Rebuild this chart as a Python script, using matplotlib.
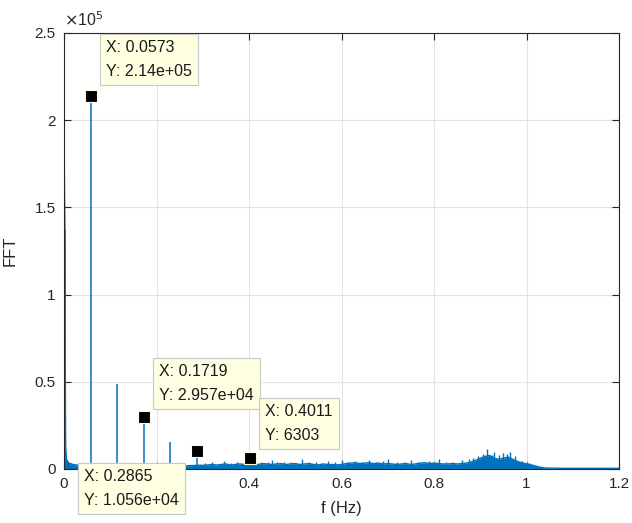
import numpy as np
import matplotlib
matplotlib.use("Agg")
import matplotlib.pyplot as plt
from matplotlib.ticker import FuncFormatter, MultipleLocator

plt.rcParams['font.family'] = ['Liberation Sans', 'DejaVu Sans']

# Broadband spectrum floor, sampled every 0.01 Hz (amplitude x 1e3)
floor_f = np.round(np.arange(1, 121) * 0.01, 2)
floor_amp_k = [
    3.5, 2.6, 2.2, 2.0, 1.8, 1.7, 1.6, 1.5, 1.4, 1.4,
    1.3, 1.3, 1.2, 1.2, 1.2, 1.2, 1.2, 1.2, 1.2, 1.2,
    1.2, 1.3, 1.4, 1.5, 1.6, 1.8, 1.9, 2.0, 2.2, 2.1,
    2.3, 2.6, 2.3, 2.6, 2.9, 2.3, 2.6, 2.9, 2.6, 2.6,
    2.9, 2.6, 3.1, 2.9, 2.6, 2.9, 3.1, 2.6, 2.9, 3.1,
    2.6, 2.9, 3.1, 2.6, 2.4, 2.9, 2.6, 2.6, 2.4, 2.6,
    3.1, 3.4, 3.6, 3.1, 3.4, 3.6, 3.1, 3.4, 2.9, 3.1,
    2.9, 2.6, 2.9, 3.1, 2.6, 2.9, 3.4, 3.6, 3.1, 3.4,
    3.1, 2.9, 2.9, 3.1, 2.9, 3.1, 3.4, 4.0, 5.0, 6.2,
    7.2, 7.8, 6.2, 5.6, 6.2, 6.8, 5.6, 4.4, 3.6, 2.9,
    2.4, 1.7, 1.0, 0.6, 0.5, 0.5, 0.4, 0.4, 0.4, 0.4,
    0.4, 0.4, 0.4, 0.4, 0.4, 0.4, 0.4, 0.4, 0.4, 0.4,
]

# Low-frequency (DC) region
dc_f = [0.0, 0.0017, 0.0035, 0.005, 0.0075, 0.01]
dc_amp = [1.99e5, 1.37e5, 1.2e4, 6.0e3, 4.5e3, 3.5e3]

# Harmonic lines
harm_f = [0.0573, 0.1146, 0.1719, 0.2292, 0.2865, 0.4011]
harm_amp = [2.14e5, 4.9e4, 2.957e4, 1.55e4, 1.056e4, 6303]

# Narrow spurs on top of the floor (Hz, amplitude x 1e3)
spur_f = [0.305, 0.32, 0.345, 0.36, 0.375, 0.39, 0.41, 0.425, 0.44, 0.45,
          0.46, 0.475, 0.49, 0.5156, 0.53, 0.545, 0.57, 0.585, 0.60, 0.615,
          0.63, 0.645, 0.66, 0.675, 0.69, 0.70, 0.72, 0.735, 0.75, 0.765,
          0.79, 0.80, 0.81, 0.825, 0.84, 0.86, 0.875, 0.885, 0.895, 0.905,
          0.915, 0.925, 0.93, 0.94, 0.95, 0.958, 0.965, 0.975, 0.99, 1.005]
spur_amp_k = [3.5, 3.8, 4.5, 3.5, 4.0, 3.6, 4.5, 3.8, 4.0, 5.0,
              4.0, 3.8, 4.2, 5.5, 3.8, 4.0, 4.5, 3.8, 5.0, 4.2,
              4.5, 4.0, 5.0, 4.2, 4.5, 5.5, 4.0, 4.2, 5.0, 4.0,
              4.5, 4.0, 5.5, 4.2, 4.0, 5.0, 5.5, 6.5, 7.5, 8.5,
              11.5, 8.0, 9.5, 8.0, 9.0, 8.5, 10.0, 7.5, 4.5, 3.5]

# Data tips: marker (f, amplitude) and label text
tip_f = [0.0573, 0.1719, 0.2865, 0.4011]
tip_amp = [2.14e5, 2.957e4, 1.056e4, 6303]
tip_text = ["X: 0.0573\nY: 2.14e+05",
            "X: 0.1719\nY: 2.957e+04",
            "X: 0.2865\nY: 1.056e+04",
            "X: 0.4011\nY: 6303"]
# Label box top-left corners in figure pixels
tip_box_px = [(100, 33), (153, 357), (78, 462), (259, 397)]

W, H = 632, 523
fig = plt.figure(figsize=(W / 100, H / 100), dpi=100)
ax = fig.add_axes([64 / W, (H - 469) / H, (619 - 64) / W, (469 - 33) / H])

blue = '#0072BD'
floor_amp = np.array(floor_amp_k) * 1e3
all_f = np.concatenate([dc_f, floor_f])
all_a = np.concatenate([dc_amp, floor_amp])
ax.fill_between(all_f, 0, all_a, color=blue, lw=0, zorder=2)
ax.plot(all_f, all_a, color=blue, lw=1.0, zorder=2)
ax.vlines(spur_f, 0, np.array(spur_amp_k) * 1e3, color=blue, lw=1.0, zorder=2)
ax.vlines(harm_f, 0, harm_amp, color=blue, lw=1.3, alpha=0.85, zorder=2)
ax.vlines(dc_f[:2], 0, dc_amp[:2], color=blue, lw=1.3, alpha=0.85, zorder=2)

ax.plot(tip_f, tip_amp, ls='none', marker='s', ms=9, mfc='black',
        mec='#FFFFE0', mew=0.8, zorder=5, clip_on=False)

for (bx, by), txt in zip(tip_box_px, tip_text):
    fig.text((bx + 6) / W, (H - by - 7) / H, txt, ha='left', va='top',
             fontsize=11.5, color='#1a1a1a', linespacing=1.75, zorder=6,
             bbox=dict(boxstyle='square,pad=0.4', fc='#FFFFE1', ec='#C8C8C8', lw=0.8))

ax.set_xlim(0, 1.2)
ax.set_ylim(0, 2.5e5)
ax.xaxis.set_major_locator(MultipleLocator(0.2))
ax.yaxis.set_major_locator(MultipleLocator(0.5e5))
# the 0.2 tick label sits under the lower data-tip box
ax.xaxis.set_major_formatter(FuncFormatter(lambda v, p: "" if abs(v - 0.2) < 1e-9 else f"{v:g}"))
ax.yaxis.set_major_formatter(FuncFormatter(lambda v, p: f"{v / 1e5:g}"))
ax.grid(True, color='#e3e3e3', lw=0.8, zorder=0)
ax.set_axisbelow(True)
ax.tick_params(direction='in', top=True, right=True, length=5, width=0.8,
               colors='#262626', labelsize=11, pad=6)
for s in ax.spines.values():
    s.set_color('#262626')
    s.set_linewidth(0.8)

ax.set_xlabel('f (Hz)', fontsize=12, color='#262626', labelpad=7)
ax.set_ylabel('FFT', fontsize=12, color='#262626', labelpad=12)
ax.text(0.0, 1.01, r'$\times$10$^{5}$', transform=ax.transAxes, fontsize=11.5,
        color='#262626', ha='left', va='bottom')

fig.savefig('out.png', dpi=100)
